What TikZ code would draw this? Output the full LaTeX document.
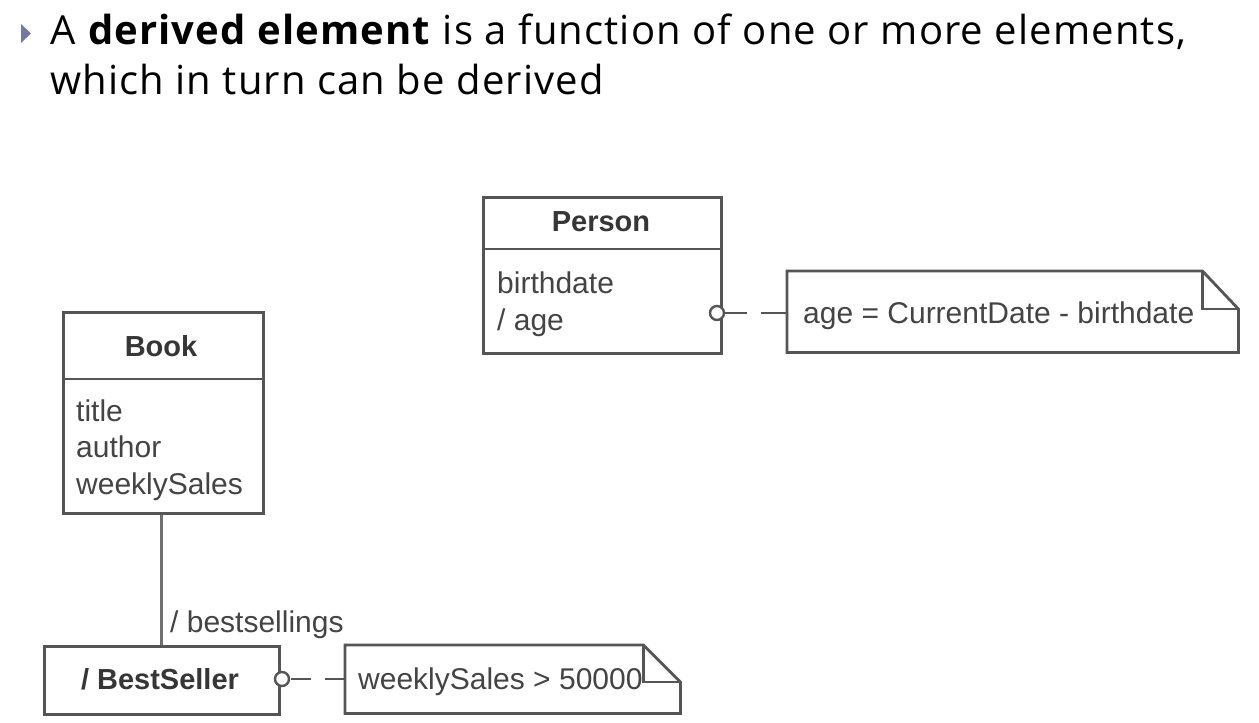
\documentclass[tikz,border=0pt]{standalone}
\usepackage{fontspec}
\setmainfont{Liberation Sans}
\newfontfamily\titlefont[LetterSpace=2.8]{Open Sans}
\newcommand\mytitlesetup{\titlefont\fontsize{40}{50}\selectfont}
\definecolor{linegray}{HTML}{555555}
\definecolor{textgray}{HTML}{444444}
\definecolor{bulletblue}{HTML}{7479A3}
\begin{document}
\begin{tikzpicture}[x=1pt,y=-1pt,
  umlbox/.style={draw=linegray, line width=2.8pt, fill=white, rectangle, inner sep=0pt},
  notebox/.style={rectangle, inner sep=0pt},
  lbl/.style={font=\fontsize{30}{34}\selectfont, text=textgray, inner sep=0pt},
  hdr/.style={font=\fontsize{29}{34}\selectfont\bfseries, text=textgray!80!black, inner sep=0pt},
  conn/.style={draw=linegray, line width=2.8pt},
  knob/.style={circle, draw=linegray, fill=white, minimum size=14pt, inner sep=0pt, line width=2.4pt},
  title/.style={font=\mytitlesetup, text=black, inner sep=0pt, anchor=base west}]
\useasboundingbox[fill=white] (0,0) rectangle (1259,723);

% bullet and title
\fill[bulletblue] (21,24) -- (31,33.5) -- (21,43) -- cycle;
\node[title] (t1) at (50,44) {A \textbf{derived element} is a function of one or more elements,};
\node[title] (t2) at (50,94) {which in turn can be derived};

% Person class
\node[umlbox, minimum width=238pt, minimum height=156pt, anchor=north west] (person) at (482,196) {};
\draw[conn] (person.west |- 0,249) -- (person.east |- 0,249);
\node[hdr, anchor=base] (personname) at (601,231) {Person};
\node[lbl, anchor=base west] (birth) at (497,293) {birthdate};
\node[lbl, anchor=base west] (age) at (497,330) {/ age};

% age note
\node[notebox, minimum width=451pt, minimum height=81pt, anchor=north west] (agenote) at (787,271) {};
\draw[conn, fill=white, line join=miter]
  (agenote.north west) -- ([xshift=-36pt]agenote.north east) -- ([yshift=-38pt]agenote.north east)
  -- (agenote.south east) -- (agenote.south west) -- cycle;
\draw[conn] ([xshift=-36pt]agenote.north east) -- ([xshift=-36pt,yshift=-38pt]agenote.north east) -- ([yshift=-38pt]agenote.north east);
\node[lbl, anchor=base west] (agetext) at (803,323) {age = CurrentDate - birthdate};
\node[knob] (knob1) at (717,313) {};
\draw[conn, dash pattern=on 26pt off 14pt] (agenote.west |- knob1) -- (knob1.east);

% Book class
\node[umlbox, minimum width=200pt, minimum height=201pt, anchor=north west] (book) at (62,311) {};
\draw[conn] (book.west |- 0,379) -- (book.east |- 0,379);
\node[hdr, anchor=base] (bookname) at (161,356) {Book};
\node[lbl, anchor=base west] (btitle) at (76,421) {title};
\node[lbl, anchor=base west] (bauthor) at (76,457) {author};
\node[lbl, anchor=base west] (bsales) at (76,494) {weeklySales};

% BestSeller
\node[umlbox, minimum width=235pt, minimum height=68pt, anchor=north west] (best) at (43,645) {};
\node[hdr, anchor=base] (bestname) at (160,689) {/ BestSeller};
\draw[draw=linegray!85, line width=3pt] (book.south -| 161,0) -- (best.north -| 161,0);
\node[lbl, anchor=base west] (assoc) at (170,632) {/ bestsellings};

% sales note
\node[notebox, minimum width=335pt, minimum height=68pt, anchor=north west] (salesnote) at (345,645) {};
\draw[conn, fill=white, line join=miter]
  (salesnote.north west) -- ([xshift=-37pt]salesnote.north east) -- ([yshift=-37pt]salesnote.north east)
  -- (salesnote.south east) -- (salesnote.south west) -- cycle;
\draw[conn] ([xshift=-37pt]salesnote.north east) -- ([xshift=-37pt,yshift=-37pt]salesnote.north east) -- ([yshift=-37pt]salesnote.north east);
\node[lbl, anchor=base west] (salestext) at (358,689) {weeklySales > 50000};
\node[knob] (knob2) at (282,679) {};
\draw[conn, dash pattern=on 20pt off 14pt] (salesnote.west |- knob2) -- (knob2.east);
\end{tikzpicture}
\end{document}
